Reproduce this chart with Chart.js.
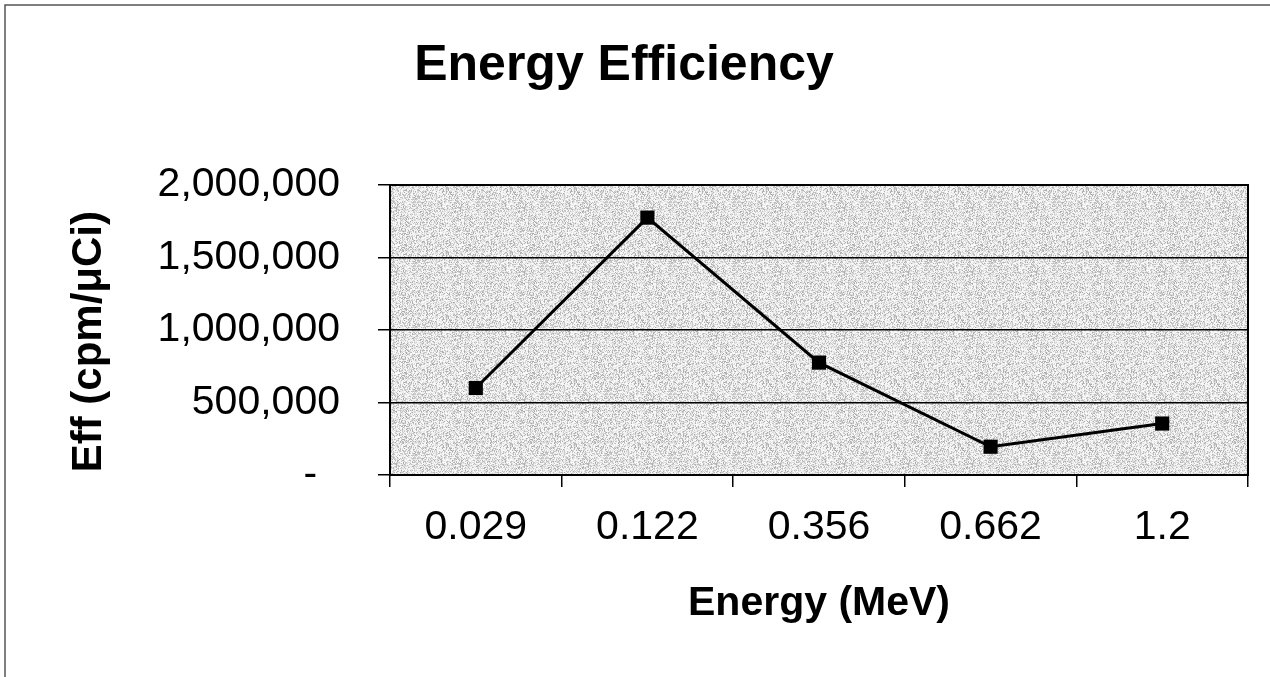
<!DOCTYPE html>
<html>
<head>
<meta charset="utf-8">
<script src="https://cdn.jsdelivr.net/npm/chart.js@4"></script>
<style>
  html, body { margin: 0; padding: 0; background: #fff; }
  #wrap { width: 1270px; height: 677px; }
</style>
</head>
<body>
<div id="wrap"><canvas id="myChart" width="1270" height="677"></canvas></div>
<script>
// data
let energies = ['0.029', '0.122', '0.356', '0.662', '1.2'];
let effValues = [600000, 1775000, 775000, 195000, 355000];
let yMin = 0;
let yMax = 2000000;
let yStep = 500000;

//Global Options
Chart.defaults.font.family = '"Liberation Sans", Arial, sans-serif';
Chart.defaults.color = '#000';

// speckled grey fill for the plot area (decoration only)
function makeSpeckle() {
    let c = document.createElement('canvas');
    c.width = 64; c.height = 64;
    let g = c.getContext('2d');
    let img = g.createImageData(64, 64);
    for (let i = 0; i < 64 * 64; i++) {
        let h = (i * 2654435761) >>> 0;
        h = ((h ^ (h >>> 13)) * 1274126177) >>> 0;
        let k = h % 100;
        let v = 250 - Math.round(k * k / 115);
        img.data[i * 4] = v; img.data[i * 4 + 1] = v; img.data[i * 4 + 2] = v; img.data[i * 4 + 3] = 255;
    }
    g.putImageData(img, 0, 0);
    return c;
}

let framePlugin = {
    id: 'frame',
    beforeDraw(chart) {
        let ctx = chart.ctx;
        let a = chart.chartArea;
        ctx.save();
        ctx.fillStyle = '#fff';
        ctx.fillRect(0, 0, chart.width, chart.height);
        // outer frame (only left and top show)
        ctx.strokeStyle = '#555';
        ctx.lineWidth = 1.5;
        ctx.beginPath();
        ctx.moveTo(5, chart.height);
        ctx.lineTo(5, 5);
        ctx.lineTo(chart.width, 5);
        ctx.stroke();
        // plot area fill
        ctx.fillStyle = ctx.createPattern(makeSpeckle(), 'repeat');
        ctx.fillRect(a.left, a.top, a.right - a.left, a.bottom - a.top);
        ctx.restore();
    },
    afterDatasetsDraw(chart) {
        let ctx = chart.ctx;
        let a = chart.chartArea;
        ctx.save();
        ctx.strokeStyle = '#000';
        ctx.lineWidth = 2;
        ctx.strokeRect(a.left, a.top, a.right - a.left, a.bottom - a.top);
        ctx.restore();
    }
};

let myChart = document.getElementById('myChart').getContext('2d');

let effChart = new Chart(myChart, {
    type: 'line',
    data: {
        labels: energies,
        datasets: [{
            data: effValues,
            borderColor: '#000',
            borderWidth: 3,
            backgroundColor: '#000',
            pointStyle: 'rect',
            pointRadius: 10,
            pointBackgroundColor: '#000',
            pointBorderColor: '#000',
            pointBorderWidth: 0,
            tension: 0
        }]
    },
    options: {
        responsive: false,
        animation: false,
        layout: { padding: { left: 0, right: 22, top: 0, bottom: 0 } },
        plugins: {
            legend: { display: false },
            tooltip: { enabled: false },
            title: {
                display: true,
                text: 'Energy Efficiency',
                color: '#000',
                font: { size: 50, weight: 'bold', lineHeight: 1.2 },
                padding: { top: 36, bottom: 89 }
            }
        },
        scales: {
            x: {
                offset: true,
                grid: {
                    offset: true,
                    drawOnChartArea: false,
                    drawTicks: true,
                    tickLength: 12,
                    color: '#000',
                    lineWidth: 1.5
                },
                border: { display: false },
                ticks: {
                    font: { size: 41 },
                    color: '#000',
                    padding: 16,
                    maxRotation: 0,
                    autoSkip: false
                },
                title: {
                    display: true,
                    text: 'Energy (MeV)',
                    color: '#000',
                    font: { size: 41, weight: 'bold', lineHeight: 1.2 },
                    padding: { top: 0, bottom: 49 }
                },
                afterFit: s => { s.height = 202; }
            },
            y: {
                min: yMin,
                max: yMax,
                grid: {
                    color: '#000',
                    lineWidth: 1.5,
                    drawTicks: true,
                    tickLength: 12
                },
                border: { display: false },
                ticks: {
                    stepSize: yStep,
                    font: { size: 41 },
                    color: '#000',
                    padding: 38,
                    callback: v => v === 0 ? '-  ' : v.toLocaleString('en-US')
                },
                title: {
                    display: true,
                    text: 'Eff (cpm/\u03bcCi)  ',
                    color: '#000',
                    font: { size: 42, weight: 'bold', lineHeight: 1.2 },
                    padding: { top: 64, bottom: 0 }
                },
                afterFit: s => { s.width = 390; }
            }
        }
    },
    plugins: [framePlugin]
});
</script>
</body>
</html>
